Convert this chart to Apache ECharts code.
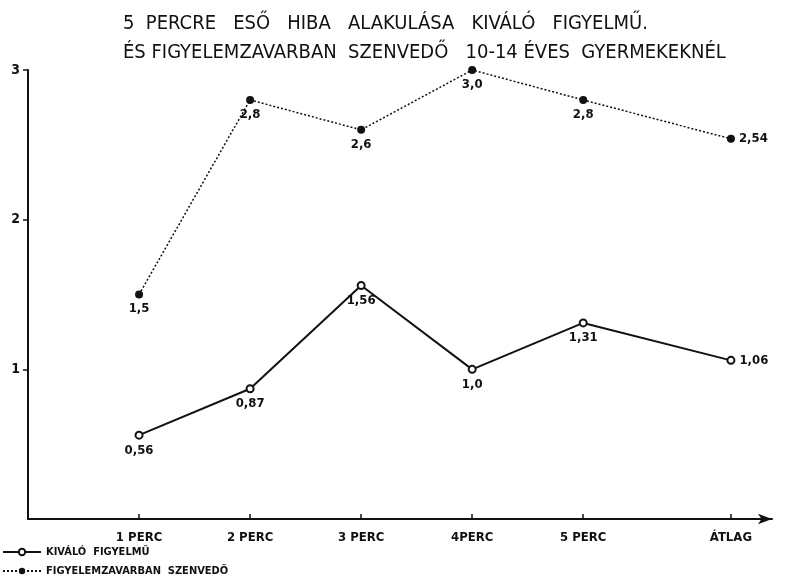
<!DOCTYPE html>
<html>
<head>
<meta charset="utf-8">
<script src="https://cdn.jsdelivr.net/npm/echarts@6/dist/echarts.min.js"></script>
<style>
  html, body { margin: 0; padding: 0; background: #fff; }
  #chart { width: 785px; height: 584px; }
</style>
</head>
<body>
<div id="chart"></div>
<script>
// Hiba alakulása 5 percenként - kiváló figyelmű vs. figyelemzavarban szenvedő gyermekek
const categories = ['1 PERC', '2 PERC', '3 PERC', '4PERC', '5 PERC', 'ÁTLAG'];
const catPos = [1, 2, 3, 4, 5, 6.33]; // az átlag oszlop kicsit távolabb van
const kivalo = [0.56, 0.87, 1.56, 1.0, 1.31, 1.06];
const kivaloLabels = ['0,56', '0,87', '1,56', '1,0', '1,31', '1,06'];
const zavar = [1.5, 2.8, 2.6, 3.0, 2.8, 2.54];
const zavarLabels = ['1,5', '2,8', '2,6', '3,0', '2,8', '2,54'];
const yTicks = [1, 2, 3];

const font = '"DejaVu Sans Condensed", "DejaVu Sans", sans-serif';
const ink = '#111';

const chart = echarts.init(document.getElementById('chart'));

// pontok + felirat: az átlag értéke jobbra, a többi alul
function pts(vals, labels) {
  return vals.map((v, i) => ({
    value: [catPos[i], v],
    label: {
      formatter: labels[i],
      position: i === vals.length - 1 ? 'right' : 'bottom'
    }
  }));
}

const option = {
  animation: false,
  backgroundColor: '#fff',
  title: {
    text: '5  PERCRE   ESŐ   HIBA   ALAKULÁSA   KIVÁLÓ   FIGYELMŰ.\nÉS FIGYELEMZAVARBAN  SZENVEDŐ   10-14 ÉVES  GYERMEKEKNÉL',
    left: 118,
    top: 4,
    textStyle: {
      fontFamily: font,
      fontSize: 20,
      fontWeight: 'normal',
      color: ink,
      lineHeight: 29
    }
  },
  legend: {
    orient: 'vertical',
    left: 2,
    top: 545,
    padding: 0,
    itemWidth: 38,
    itemHeight: 8,
    itemGap: 5,
    textStyle: { fontFamily: font, fontSize: 11, fontWeight: 'bold', color: ink, lineHeight: 14 },
    data: ['KIVÁLÓ  FIGYELMŰ', 'FIGYELEMZAVARBAN  SZENVEDŐ']
  },
  grid: { left: 28, right: 13, top: 70, bottom: 65, containLabel: false },
  xAxis: {
    type: 'value',
    min: 0,
    max: 6.7,
    splitLine: { show: false },
    axisLine: {
      lineStyle: { color: ink, width: 2 },
      symbol: ['none', 'arrow'],
      symbolSize: [8, 14]
    },
    axisTick: {
      inside: true,
      length: 5,
      customValues: catPos,
      lineStyle: { color: ink, width: 1.5 }
    },
    axisLabel: {
      customValues: catPos,
      formatter: v => categories[catPos.indexOf(v)] || '',
      fontFamily: font,
      fontSize: 13,
      fontWeight: 'bold',
      color: ink,
      margin: 12
    }
  },
  yAxis: {
    type: 'value',
    min: 0,
    max: 3,
    interval: 1,
    splitLine: { show: false },
    axisLine: { show: true, lineStyle: { color: ink, width: 2 } },
    axisTick: {
      show: true,
      length: 5,
      customValues: yTicks,
      lineStyle: { color: ink, width: 1.5 }
    },
    axisLabel: {
      customValues: yTicks,
      fontFamily: font,
      fontSize: 14,
      fontWeight: 'bold',
      color: ink,
      margin: 8
    }
  },
  series: [
    {
      name: 'KIVÁLÓ  FIGYELMŰ',
      type: 'line',
      data: pts(kivalo, kivaloLabels),
      symbol: 'emptyCircle',
      symbolSize: 7,
      lineStyle: { color: ink, width: 2 },
      itemStyle: { color: ink, borderWidth: 1.5 },
      label: { show: true, fontFamily: font, fontSize: 13, fontWeight: 'bold', color: ink, distance: 4 }
    },
    {
      name: 'FIGYELEMZAVARBAN  SZENVEDŐ',
      type: 'line',
      data: pts(zavar, zavarLabels),
      symbol: 'circle',
      symbolSize: 8,
      lineStyle: { color: ink, width: 1.5, type: [2, 2] },
      itemStyle: { color: ink },
      label: { show: true, fontFamily: font, fontSize: 13, fontWeight: 'bold', color: ink, distance: 4 }
    }
  ]
};

chart.setOption(option);
</script>
</body>
</html>
